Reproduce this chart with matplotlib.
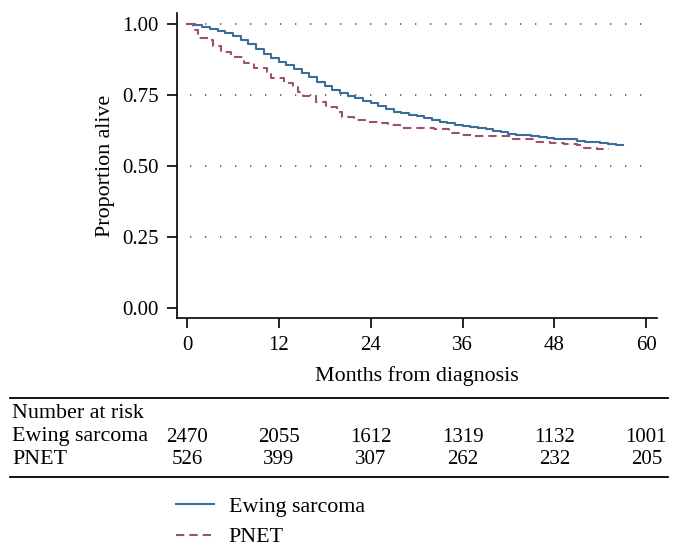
import matplotlib
matplotlib.use("Agg")
import matplotlib.pyplot as plt
from matplotlib.lines import Line2D
from matplotlib.transforms import blended_transform_factory

# ---- data ----
ewing_t = [0, 1, 2, 3, 4, 5, 6, 7, 8, 9, 10, 11, 12, 13, 14, 15, 16, 17, 18, 19,
           20, 21, 22, 23, 24, 25, 26, 27, 28, 29, 30, 31, 32, 33, 34, 35, 36, 37,
           38, 39, 40, 41, 42, 43, 44, 45, 46, 47, 48, 49, 50, 51, 52, 53, 54, 55,
           56, 56.9]
ewing_s = [1.000, 0.995, 0.988, 0.981, 0.975, 0.967, 0.958, 0.945, 0.930, 0.913,
           0.895, 0.880, 0.868, 0.855, 0.842, 0.826, 0.812, 0.796, 0.781, 0.769,
           0.758, 0.748, 0.739, 0.730, 0.721, 0.710, 0.700, 0.692, 0.687, 0.681,
           0.675, 0.669, 0.662, 0.656, 0.651, 0.646, 0.641, 0.636, 0.633, 0.629,
           0.624, 0.619, 0.614, 0.610, 0.608, 0.606, 0.604, 0.600, 0.597, 0.595,
           0.594, 0.590, 0.586, 0.583, 0.580, 0.577, 0.574, 0.573]
pnet_t = [0, 0.8, 1.4, 2.7, 3.4, 4.5, 5.8, 7.4, 8.7, 10.4, 11.0, 12.7, 13.9, 14.5,
          15.1, 16.8, 18.1, 19.6, 20.2, 21.8, 23.3, 25.0, 26.3, 28.0, 32.3, 34.2,
          35.9, 37.5, 42.6, 43.4, 45.4, 47.4, 49.2, 51.0, 51.9, 53.6, 55.1]
pnet_s = [1.000, 0.979, 0.952, 0.944, 0.922, 0.901, 0.884, 0.862, 0.846, 0.830,
          0.810, 0.791, 0.783, 0.762, 0.746, 0.726, 0.709, 0.690, 0.674, 0.662,
          0.656, 0.650, 0.645, 0.633, 0.629, 0.615, 0.609, 0.606, 0.597, 0.594,
          0.586, 0.580, 0.576, 0.574, 0.562, 0.559, 0.559]

risk_months = [0, 12, 24, 36, 48, 60]
ewing_risk = [2470, 2055, 1612, 1319, 1132, 1001]
pnet_risk = [526, 399, 307, 262, 232, 205]
yticks = [0.00, 0.25, 0.50, 0.75, 1.00]
ytick_labels = ["0.00", "0.25", "0.50", "0.75", "1.00"]

BLUE = "#3a6d9a"
MAUVE = "#a0506e"
FS = 15.8
FS_NUM = 15

plt.rcParams['font.family'] = ['Liberation Serif', 'DejaVu Serif']

fig = plt.figure(figsize=(6.8, 5.55), dpi=100)
W, H = 680, 555
ax = fig.add_axes([177 / W, 1 - 318 / H, (657 - 177) / W, (318 - 13) / H])

for y in yticks[1:]:
    ax.hlines(y, 0.4, 61.0, colors="#555555", linestyles=(0, (0.8, 8.2)), linewidth=1.2)

ax.step(ewing_t, ewing_s, where='post', color=BLUE, linewidth=1.5, label="Ewing sarcoma")
ax.step(pnet_t, pnet_s, where='post', color=MAUVE, linewidth=1.5,
        linestyle=(0, (4, 2.4)), label="PNET")

ax.set_xlim(-1.3, 61.4)
ax.set_ylim(-0.035, 1.039)
ax.set_xticks(risk_months)
ax.set_yticks(yticks)
ax.set_yticklabels(ytick_labels)
for s in ['top', 'right']:
    ax.spines[s].set_visible(False)
for s in ['left', 'bottom']:
    ax.spines[s].set_linewidth(1.2)
ax.tick_params(axis='both', direction='out', length=7, width=1.2, labelsize=FS_NUM, pad=6)
ax.set_ylabel("Proportion alive", fontsize=FS, labelpad=5)
ax.set_xlabel("Months from diagnosis", fontsize=FS, labelpad=8)

# ---- risk table ----
tr = blended_transform_factory(ax.transData, fig.transFigure)
fig.add_artist(Line2D([10 / W, 668 / W], [1 - 398 / H, 1 - 398 / H], color='black', linewidth=1.3))
fig.add_artist(Line2D([10 / W, 668 / W], [1 - 477 / H, 1 - 477 / H], color='black', linewidth=1.3))
fig.text(12 / W, 1 - 414 / H, "Number at risk", fontsize=FS, va='center', ha='left')
fig.text(12 / W, 1 - 437 / H, "Ewing sarcoma", fontsize=FS, va='center', ha='left')
fig.text(12 / W, 1 - 460 / H, "PNET", fontsize=FS, va='center', ha='left')
for m, e, p in zip(risk_months, ewing_risk, pnet_risk):
    fig.text(m, 1 - 437 / H, str(e), fontsize=FS_NUM, va='center', ha='center', transform=tr)
    fig.text(m, 1 - 460 / H, str(p), fontsize=FS_NUM, va='center', ha='center', transform=tr)

# ---- legend ----
handles, labels = ax.get_legend_handles_labels()
fig.legend(handles, labels, loc='center left', bbox_to_anchor=(176 / W, 1 - 522 / H),
           frameon=False, fontsize=FS, handlelength=1.75, handletextpad=0.65,
           labelspacing=0.45, borderpad=0, borderaxespad=0)

fig.savefig("out.png", dpi=100)
